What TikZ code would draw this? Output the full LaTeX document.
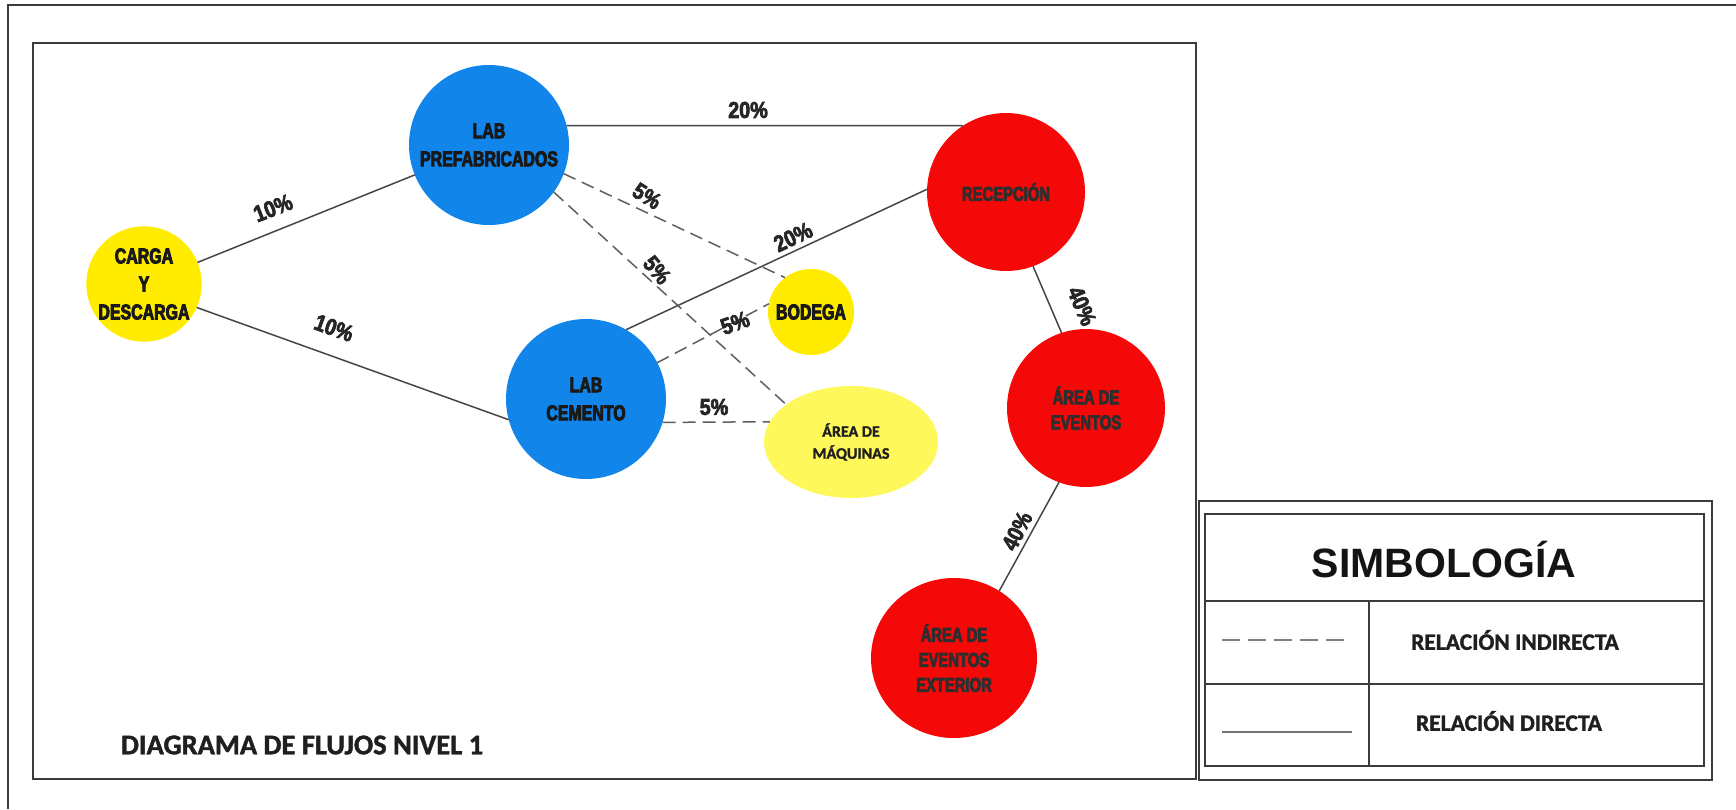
\documentclass[tikz,border=0pt]{standalone}
\usepackage{fontspec}
\usetikzlibrary{shapes.geometric}
\setmainfont{Carlito}
\newfontfamily\condfont{Liberation Sans}[FakeStretch=0.74, FakeBold=4]
\newfontfamily\pctfont{Liberation Sans}[FakeStretch=0.86, FakeBold=3]
\newfontfamily\arialfont{Liberation Sans}
\newfontfamily\titlefont{Carlito}[FakeBold=1.5]
\definecolor{zblue}{RGB}{17,133,234}
\definecolor{zred}{RGB}{245,8,8}
\definecolor{zyellow}{RGB}{255,236,0}
\definecolor{zlyellow}{RGB}{255,248,90}
\definecolor{framegray}{RGB}{60,60,60}
\definecolor{linegray}{RGB}{70,70,70}
\definecolor{dashgray}{RGB}{95,95,95}
\begin{document}
\begin{tikzpicture}[x=1pt,y=-1pt,
  every node/.style={inner sep=0pt, outer sep=0pt},
  zone/.style={circle, minimum size=#1, align=center, text=black!90,
    font=\condfont\bfseries\fontsize{21.5}{28}\selectfont},
  redzone/.style={circle, minimum size=#1, align=center, fill=zred, text=black!82,
    font=\condfont\bfseries\fontsize{20}{25}\selectfont},
  pct/.style={font=\pctfont\bfseries\fontsize{23}{23}\selectfont, text=black!85},
  direct/.style={draw=linegray, line width=1.5pt},
  indirect/.style={draw=dashgray, line width=1.5pt, dash pattern=on 13pt off 7pt},
  frameline/.style={draw=framegray, line width=2.6pt},
  thinframe/.style={draw=framegray, line width=1.8pt},
  legtext/.style={font=\titlefont\bfseries\fontsize{23.5}{23.5}\selectfont, text=black!88}
]
\fill[white] (0,0) rectangle (1736,809);
\useasboundingbox (0,0) rectangle (1736,809);

% frames
\draw[frameline] (8,809) -- (8,5) -- (1736,5);
\draw[frameline] (33,43) rectangle (1196,779);

% nodes
\node[zone=90pt, fill=zyellow] (carga) at (144,284) {CARGA\\Y\\DESCARGA};
\node[zone=160pt, fill=zblue] (pref) at (489,145) {LAB\\PREFABRICADOS};
\node[zone=160pt, fill=zblue] (cem) at (586,399) {LAB\\CEMENTO};
\node[redzone=158pt] (rec) at (1006,192) {RECEPCIÓN};
\node[zone=86pt, fill=zyellow] (bod) at (811,312) {BODEGA};
\node[ellipse, minimum width=174pt, minimum height=112pt, fill=zlyellow, align=center,
  text=black!88, font=\titlefont\bfseries\fontsize{16}{22}\selectfont] (maq) at (851,442) {ÁREA DE\\MÁQUINAS};
\node[redzone=158pt] (ev) at (1086,408) {ÁREA DE\\EVENTOS};
\node[ellipse, minimum width=166pt, minimum height=160pt, fill=zred, align=center, text=black!82,
  font=\condfont\bfseries\fontsize{20}{25}\selectfont] (ext) at (954,658) {ÁREA DE\\EVENTOS\\EXTERIOR};

% direct connections
\draw[direct] (carga) -- (pref);
\draw[direct] (carga.-24) -- (cem.195);
\draw[direct] (pref.14) -- (rec.123);
\draw[direct] (cem.60) -- (rec.178);
\draw[direct] (rec.-70) -- (ev.108);
\draw[direct] (ev.-110) -- (ext.56);

% indirect connections
\draw[indirect] (pref.-21) -- (bod.127);
\draw[indirect] (pref.-36) -- (maq.150);
\draw[indirect] (cem.27) -- (bod.169);
\draw[indirect] (cem.-17.5) -- (maq.166);

% labels
\node[pct, rotate=21] (l1) at (273,208) {10\%};
\node[pct, rotate=-20] (l2) at (334,328) {10\%};
\node[pct] (l3) at (748,110) {20\%};
\node[pct, rotate=25] (l4) at (793,237) {20\%};
\node[pct, rotate=-67] (l5) at (1082,306) {40\%};
\node[pct, rotate=63] (l6) at (1017,531) {40\%};
\node[pct, rotate=-32] (l7) at (647,196) {5\%};
\node[pct, rotate=-50] (l8) at (657,270) {5\%};
\node[pct, rotate=20] (l9) at (735,323) {5\%};
\node[pct] (l10) at (714,407) {5\%};

\node[anchor=west, font=\titlefont\bfseries\fontsize{28.5}{28.5}\selectfont, text=black!88] (title) at (121,745) {DIAGRAMA DE FLUJOS NIVEL 1};

% legend
\draw[frameline] (1199,501) rectangle (1712,780);
\draw[thinframe] (1205,514) rectangle (1704,766);
\draw[thinframe] (1205,601) -- (1704,601);
\draw[thinframe] (1205,684) -- (1704,684);
\draw[thinframe] (1369,601) -- (1369,766);
\node[font=\arialfont\bfseries\fontsize{41}{41}\selectfont, text=black!92] (simb) at (1444,560) {SIMBOLOGÍA};
\node[legtext] (ind) at (1515,640) {RELACIÓN INDIRECTA};
\node[legtext] (dir) at (1509,721) {RELACIÓN DIRECTA};
\coordinate (da) at (1222,640);
\coordinate (db) at (1352,640);
\coordinate (sa) at (1222,732);
\coordinate (sb) at (1352,732);
\draw[draw=gray, line width=1.8pt, dash pattern=on 18pt off 8pt] (da) -- (db);
\draw[draw=gray!90!black, line width=1.8pt] (sa) -- (sb);
\end{tikzpicture}
\end{document}
